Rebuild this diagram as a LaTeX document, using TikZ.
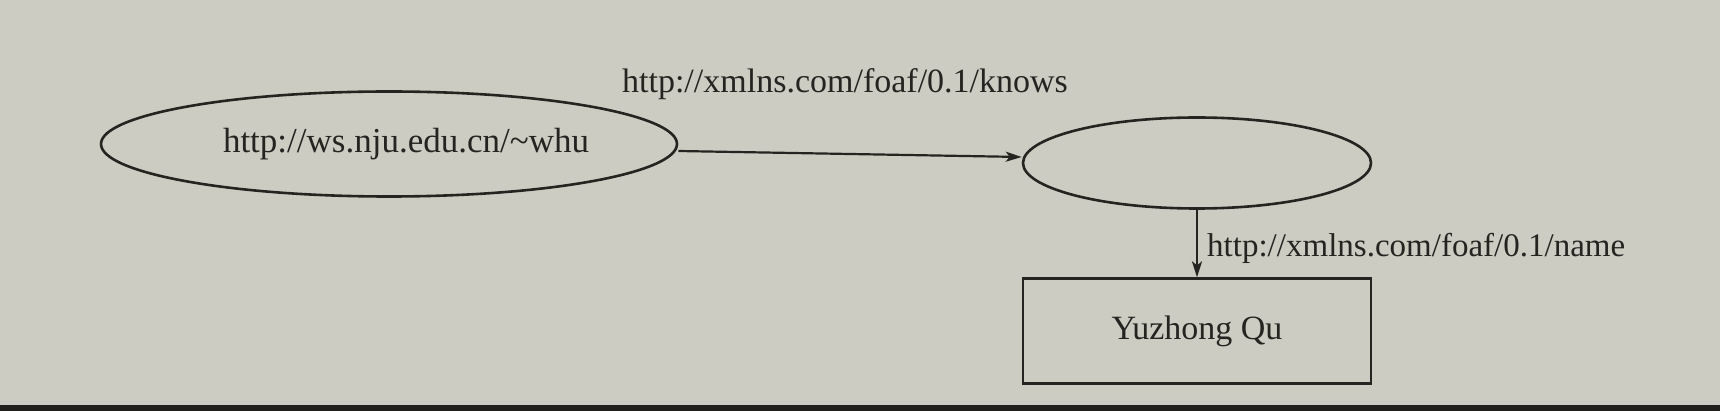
\documentclass[tikz,border=0pt]{standalone}
\usepackage{fontspec}
\setmainfont{Liberation Serif}
\usetikzlibrary{shapes.geometric,arrows.meta,calc}
\definecolor{paper}{RGB}{204,204,194}
\definecolor{ink}{RGB}{38,36,33}
\tikzset{
  res/.style={ellipse,draw=ink,line width=2.6pt,inner sep=0pt,text=ink,font=\fontsize{35}{40}\selectfont},
  lit/.style={rectangle,draw=ink,line width=2.3pt,inner sep=0pt,text=ink,font=\fontsize{34}{40}\selectfont},
  prop/.style={draw=ink,line width=2.2pt,-{Stealth[length=16pt,width=10pt,inset=4pt]}},
  lbl/.style={inner sep=0pt,text=ink,font=\fontsize{34}{40}\selectfont}
}
\begin{document}
\begin{tikzpicture}[x=1pt,y=-1pt]
\fill[paper] (0,0) rectangle (1720,411);
\fill[ink!85!black] (0,405) rectangle (1720,411);
\useasboundingbox (0,0) rectangle (1720,411);
\node[res,minimum width=576pt,minimum height=105pt] (e1) at (389,144) {\hspace*{34pt}http://ws.nju.edu.cn/\char"007E whu};
\node[res,minimum width=348pt,minimum height=91pt] (e2) at (1197,163) {};
\node[lit,minimum width=348pt,minimum height=105pt] (r) at (1197,331) {Yuzhong Qu};
\draw[prop] ($(e1.east)+(0,7)$) -- ($(e2.west)+(0,-6)$);
\draw[prop] (e2.south) -- (r.north);
\node[lbl] (l1) at (845,84) {http://xmlns.com/foaf/0.1/knows};
\node[lbl,anchor=west,font=\fontsize{33}{40}\selectfont] (l2) at (1207,248) {http://xmlns.com/foaf/0.1/name};
\end{tikzpicture}
\end{document}
